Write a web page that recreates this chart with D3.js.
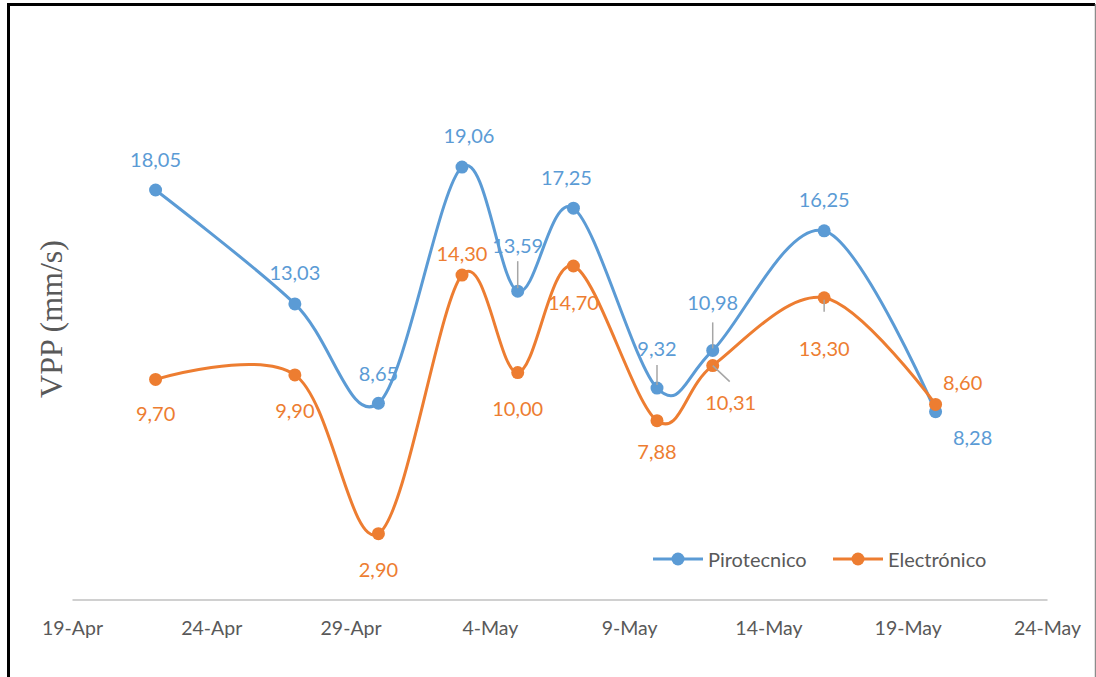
<!DOCTYPE html>
<meta charset="utf-8">
<title>VPP</title>
<style>
  body { margin: 0; background: #fff; }
  .lbl { font-family: Lato, "Open Sans", sans-serif; font-size: 20px; }
  .tick text { font-family: Lato, "Open Sans", sans-serif; font-size: 19.5px; fill: #595959; }
</style>
<body>
<script src="https://d3js.org/d3.v7.min.js"></script>
<script>
// data
var dates = ["2019-04-22", "2019-04-27", "2019-04-30", "2019-05-03", "2019-05-05",
             "2019-05-07", "2019-05-10", "2019-05-12", "2019-05-16", "2019-05-20"];
var pirotecnico = [18.05, 13.03, 8.65, 19.06, 13.59, 17.25, 9.32, 10.98, 16.25, 8.28];
var electronico = [9.70, 9.90, 2.90, 14.30, 10.00, 14.70, 7.88, 10.31, 13.30, 8.60];
var seriesNames = ["Pirotecnico", "Electrónico"];
var tickDates = ["2019-04-19", "2019-04-24", "2019-04-29", "2019-05-04",
                 "2019-05-09", "2019-05-14", "2019-05-19", "2019-05-24"];

var colors = ["#5B9BD5", "#ED7D31"];

// label placement (offsets from the point) and leader lines
var labelPos = [
  [[0,-31],[0,-32],[0,-30],[7,-32],[0,-46],[-7,-31],[0,-40],[0,-48],[0,-32],[37,25]],
  [[0,34],[0,35],[0,35],[0,-22],[0,35],[0,36],[0,30],[18,36],[0,50],[27,-22]]
];
var leaders = [
  {4: [0,-30,0,-3], 6: [0,-23,0,-3], 7: [0,-28,0,-2]},
  {7: [0,0,17,16], 8: [0,2,0,14]}
];

var W = 1096, H = 677;
var parse = d3.utcParse("%Y-%m-%d");
var fmtTick = d3.utcFormat("%-d-%b");
var fmtVal = function(v) { return v.toFixed(2).replace(".", ","); };

var x = d3.scaleUtc()
  .domain([parse(tickDates[0]), parse(tickDates[tickDates.length - 1])])
  .range([72, 1047]);
var y = d3.scaleLinear().domain([0, 25]).range([599.5, 32.3]);

var svg = d3.select("body").append("svg")
  .attr("width", W).attr("height", H);

// frame
svg.append("path").attr("d", "M8.5,677 V4.5 H1095")
  .attr("fill", "none").attr("stroke", "#000").attr("stroke-width", 3);
svg.append("line").attr("x1", 1095.5).attr("x2", 1095.5).attr("y1", 4).attr("y2", 677)
  .attr("stroke", "#8c8c8c").attr("stroke-width", 1.5);

// x axis
var xAxis = svg.append("g")
  .attr("class", "xaxis")
  .attr("transform", "translate(0," + y(0) + ")")
  .call(d3.axisBottom(x)
    .tickValues(tickDates.map(parse))
    .tickFormat(fmtTick)
    .tickSize(0)
    .tickPadding(22));
xAxis.select(".domain").attr("stroke", "#D0D0D0").attr("stroke-width", 2);

// y title
svg.append("text")
  .attr("transform", "translate(62,319) rotate(-90)")
  .attr("text-anchor", "middle")
  .style("font-family", "'Liberation Serif', 'Times New Roman', serif")
  .style("font-size", "32px")
  .attr("fill", "#595959")
  .text("VPP (mm/s)");

var line = d3.line()
  .curve(d3.curveCardinal.tension(0))
  .x(function(d) { return x(d.date); })
  .y(function(d) { return y(d.v); });

var allSeries = [pirotecnico, electronico].map(function(vals) {
  return vals.map(function(v, i) { return {date: parse(dates[i]), v: v}; });
});

allSeries.forEach(function(data, s) {
  svg.append("path")
    .datum(data)
    .attr("fill", "none")
    .attr("stroke", colors[s])
    .attr("stroke-width", 3)
    .attr("stroke-linecap", "round")
    .attr("d", line);
});

allSeries.forEach(function(data, s) {
  svg.selectAll(".dot" + s)
    .data(data)
    .enter().append("circle")
    .attr("r", 6.5)
    .attr("fill", colors[s])
    .attr("cx", function(d) { return x(d.date); })
    .attr("cy", function(d) { return y(d.v); });
});

// leader lines
allSeries.forEach(function(data, s) {
  Object.keys(leaders[s]).forEach(function(k) {
    var d = data[+k], l = leaders[s][k];
    var px = x(d.date), py = y(d.v);
    svg.append("line")
      .attr("x1", px + l[0]).attr("y1", py + l[1])
      .attr("x2", px + l[2]).attr("y2", py + l[3])
      .attr("stroke", "#A6A6A6").attr("stroke-width", 1.5);
  });
});

// data labels
allSeries.forEach(function(data, s) {
  svg.selectAll(".lbl" + s)
    .data(data)
    .enter().append("text")
    .attr("class", "lbl")
    .attr("fill", colors[s])
    .attr("text-anchor", "middle")
    .attr("dominant-baseline", "central")
    .attr("x", function(d, i) { return x(d.date) + labelPos[s][i][0]; })
    .attr("y", function(d, i) { return y(d.v) + labelPos[s][i][1]; })
    .text(function(d) { return fmtVal(d.v); });
});

// legend
var legend = svg.append("g").attr("transform", "translate(653,559)");
seriesNames.forEach(function(name, s) {
  var g = legend.append("g").attr("transform", "translate(" + (s * 180) + ",0)");
  g.append("line").attr("x1", 0).attr("x2", 50)
    .attr("stroke", colors[s]).attr("stroke-width", 3);
  g.append("circle").attr("cx", 25).attr("r", 6.5).attr("fill", colors[s]);
  g.append("text")
    .attr("class", "lbl")
    .attr("x", 55)
    .attr("dominant-baseline", "central")
    .attr("fill", "#595959")
    .text(name);
});
</script>
</body>
